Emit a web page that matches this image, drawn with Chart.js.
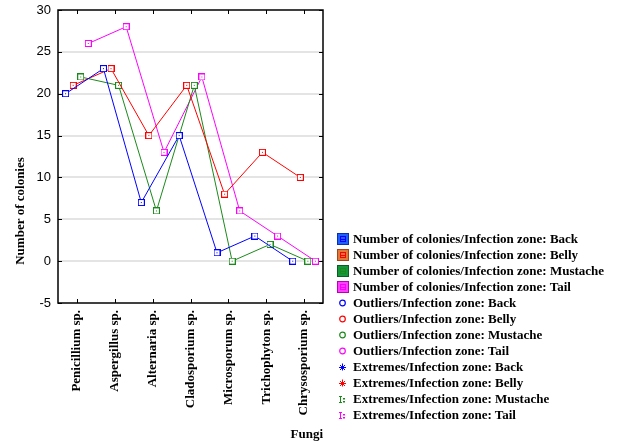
<!DOCTYPE html>
<html>
<head>
<meta charset="utf-8">
<script src="https://cdn.jsdelivr.net/npm/chart.js@4.4.1/dist/chart.umd.min.js"></script>
<style>
  html, body { margin: 0; padding: 0; background: #fff; }
  #wrap { position: relative; width: 619px; height: 446px; }
  #legend { position: absolute; left: 337px; top: 231px; font: bold 13px "Liberation Serif", "Times New Roman", serif; color: #000; }
  #legend div { height: 16px; line-height: 16px; white-space: nowrap; display: flex; align-items: center; }
  #legend canvas { margin-right: 4px; }
</style>
</head>
<body>
<div id="wrap"><canvas id="chart"></canvas><div id="legend"></div></div>
<script>
// data
const fungi = ['Penicillium sp.', 'Aspergillus sp.', 'Alternaria sp.', 'Cladosporium sp.',
               'Microsporum sp.', 'Trichophyton sp.', 'Chrysosporium sp.'];
const zones = ['Back', 'Belly', 'Mustache', 'Tail'];
const back     = [20, 23, 7, 15, 1, 3, 0];
const belly    = [21, 23, 15, 21, 8, 13, 10];
const mustache = [22, 21, 6, 21, 0, 2, 0];
const tail     = [26, 28, 13, 22, 6, 3, 0];
const yTicks = [-5, 0, 5, 10, 15, 20, 25, 30];

const series = [back, belly, mustache, tail];
const colors = ['#0000ff', '#ff0000', '#1a8a1a', '#ff00ff'];
const boxFill = ['#2060ff', '#e07a3a', '#14963a', '#ff40ff'];
const boxEdge = ['#0a2fb0', '#a4461a', '#0b5e22', '#b800b8'];
const dodge = [-0.3, -0.1, 0.1, 0.3];
const serif = '"Liberation Serif", "Times New Roman", serif';

function icon(w, h, draw) {
  const c = document.createElement('canvas');
  c.width = w; c.height = h;
  draw(c.getContext('2d'));
  return c;
}

// square marker with a dot in the middle
function marker(col) {
  return icon(7, 7, g => {
    g.fillStyle = '#fff';
    g.fillRect(0, 0, 7, 7);
    g.strokeStyle = col;
    g.lineWidth = 1;
    g.strokeRect(0.5, 0.5, 6, 6);
    g.fillStyle = col;
    g.fillRect(3, 3, 1, 1);
  });
}

const legendItems = [];
zones.forEach((z, i) => legendItems.push({
  text: 'Number of colonies/Infection zone: ' + z,
  icon: icon(12, 12, g => {
    g.fillStyle = boxFill[i]; g.fillRect(0, 0, 12, 12);
    g.strokeStyle = boxEdge[i]; g.lineWidth = 1; g.strokeRect(0.5, 0.5, 11, 11);
    g.strokeStyle = colors[i]; g.strokeRect(3.5, 3.5, 5, 5);
    g.beginPath(); g.moveTo(3, 6.5); g.lineTo(9, 6.5); g.stroke();
  })
}));
zones.forEach((z, i) => legendItems.push({
  text: 'Outliers/Infection zone: ' + z,
  icon: icon(12, 12, g => {
    g.strokeStyle = colors[i]; g.lineWidth = 1.2;
    g.beginPath(); g.arc(5.5, 6, 2.8, 0, Math.PI * 2); g.stroke();
  })
}));
zones.forEach((z, i) => legendItems.push({
  text: 'Extremes/Infection zone: ' + z,
  icon: icon(12, 12, g => {
    g.strokeStyle = colors[i]; g.fillStyle = colors[i]; g.lineWidth = 1;
    g.beginPath();
    if (i < 2) {
      g.moveTo(5.5, 2.5); g.lineTo(5.5, 9.5);
      g.moveTo(2, 6.5); g.lineTo(9, 6.5);
      g.moveTo(3, 4); g.lineTo(8, 9);
      g.moveTo(8, 4); g.lineTo(3, 9);
    } else {
      g.moveTo(3.5, 3); g.lineTo(3.5, 10);
      g.moveTo(2, 3.5); g.lineTo(5, 3.5);
      g.moveTo(2, 9.5); g.lineTo(5, 9.5);
    }
    g.stroke();
    if (i >= 2) { g.fillRect(6, 5, 2, 1.5); g.fillRect(6, 8, 2, 1.5); }
  })
}));

const legendBox = document.getElementById('legend');
legendItems.forEach(it => {
  const row = document.createElement('div');
  row.appendChild(it.icon);
  const span = document.createElement('span');
  span.textContent = it.text;
  row.appendChild(span);
  legendBox.appendChild(row);
});

const datasets = series.map((vals, s) => ({
  label: 'Number of colonies/Infection zone: ' + zones[s],
  data: vals.map((v, i) => ({ x: i + dodge[s], y: v })),
  borderColor: colors[s],
  borderWidth: 1,
  pointStyle: marker(colors[s]),
  pointRadius: 4,
  tension: 0
}));

const frame = {
  id: 'frame',
  afterDraw(chart) {
    const { ctx, chartArea: a, scales } = chart;
    ctx.save();
    ctx.strokeStyle = '#000';
    ctx.lineWidth = 1;
    ctx.beginPath();
    scales.x.ticks.forEach(t => {
      const px = Math.round(scales.x.getPixelForValue(t.value)) + 0.5;
      ctx.moveTo(px, a.top); ctx.lineTo(px, a.top + 4);
      ctx.moveTo(px, a.bottom); ctx.lineTo(px, a.bottom - 4);
    });
    scales.y.ticks.forEach(t => {
      const py = Math.round(scales.y.getPixelForValue(t.value)) + 0.5;
      ctx.moveTo(a.right, py); ctx.lineTo(a.right - 4, py);
      ctx.moveTo(a.left, py); ctx.lineTo(a.left + 4, py);
    });
    ctx.stroke();
    ctx.lineWidth = 1.5;
    ctx.strokeRect(a.left, a.top, a.right - a.left, a.bottom - a.top);
    // y axis title
    ctx.translate(21, 211);
    ctx.rotate(-Math.PI / 2);
    ctx.font = 'bold 13px ' + serif;
    ctx.fillStyle = '#000';
    ctx.textAlign = 'center';
    ctx.textBaseline = 'middle';
    ctx.fillText('Number of colonies', 0, 0);
    ctx.restore();
  }
};

new Chart(document.getElementById('chart'), {
  type: 'line',
  data: { datasets },
  plugins: [frame],
  options: {
    responsive: true,
    maintainAspectRatio: false,
    animation: false,
    layout: { padding: { top: 10, right: 296, bottom: 4, left: 0 } },
    plugins: {
      tooltip: { enabled: false },
      legend: { display: false }
    },
    scales: {
      x: {
        type: 'linear',
        min: -0.5,
        max: 6.5,
        afterBuildTicks: s => { s.ticks = fungi.map((f, i) => ({ value: i })); },
        afterFit: s => { s.height = 139; },
        ticks: {
          autoSkip: false,
          maxRotation: 90,
          minRotation: 90,
          padding: 7,
          color: '#000',
          font: { family: serif, size: 13, weight: 'bold' },
          callback: v => fungi[v]
        },
        grid: { display: false, drawTicks: false },
        border: { display: false },
        title: {
          display: true,
          text: 'Fungi',
          align: 'end',
          padding: 0,
          color: '#000',
          font: { family: serif, size: 13, weight: 'bold' }
        }
      },
      y: {
        min: -5,
        max: 30,
        afterBuildTicks: s => { s.ticks = yTicks.map(v => ({ value: v })); },
        afterFit: s => { s.width = 58; s.paddingTop = 0; s.paddingBottom = 0; },
        ticks: {
          padding: 7,
          color: '#000',
          font: { family: '"Liberation Sans", Arial, sans-serif', size: 13 }
        },
        grid: {
          drawTicks: false,
          lineWidth: 2,
          color: c => (c.tick && (c.tick.value === -5 || c.tick.value === 30)) ? 'rgba(0,0,0,0)' : '#e4e4e4'
        },
        border: { display: false }
      }
    }
  }
});
</script>
</body>
</html>
